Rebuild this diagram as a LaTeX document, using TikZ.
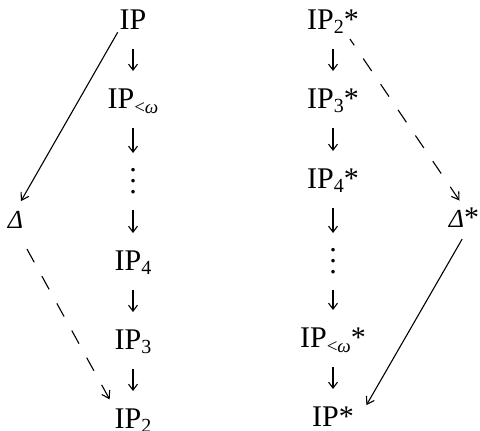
\documentclass[tikz,border=0pt]{standalone}
\usepackage{fontspec}
\setmainfont{Liberation Serif}
\usetikzlibrary{arrows.meta,calc}
\newcommand{\lsub}[1]{{\fontsize{19}{19}\selectfont\raisebox{-5pt}{#1}}}
\newcommand{\dsub}[1]{{\fontsize{20}{20}\selectfont\raisebox{-4pt}{#1}}}
\newcommand{\vdts}{\raisebox{-3pt}{\vbox{\baselineskip=11pt\lineskiplimit=0pt\hbox{.}\hbox{.}\hbox{.}}}}
\newcommand{\dlt}{{\fontsize{26}{26}\selectfont\itshape Δ}}
\tikzset{
  lbl/.style={anchor=base, inner sep=0pt, font=\fontsize{30}{36}\selectfont},
  vert/.style={-{Straight Barb[length=6pt,width=9pt]}, line width=1.1pt, shorten <=20pt, shorten >=37pt},
  longarr/.style={-{Straight Barb[length=7pt,width=9pt]}, line width=1.1pt},
  dsh/.style={{Straight Barb[length=7pt,width=9pt]}-, line width=1.1pt, dash pattern=on 15pt off 16pt}
}
\begin{document}
\begin{tikzpicture}[x=1pt,y=-1pt]
\useasboundingbox (0,0) rectangle (480,431);
% left column
\node[lbl] (ip)   at (133,29)  {IP};
\node[lbl] (iplw) at (133,108) {IP\lsub{<\itshape ω}};
\node[lbl] (ldt)  at (133,190) {\vdts};
\node[lbl] (ip4)  at (133,270) {IP\dsub{4}};
\node[lbl] (ip3)  at (133,349) {IP\dsub{3}};
\node[lbl] (ip2)  at (133,428) {IP\dsub{2}};
% right column
\node[lbl] (ip2s) at (333,29)  {IP\dsub{2}*};
\node[lbl] (ip3s) at (333,108) {IP\dsub{3}*};
\node[lbl] (ip4s) at (333,188) {IP\dsub{4}*};
\node[lbl] (rdt)  at (333,270) {\vdts};
\node[lbl] (iplws) at (333,347) {IP\lsub{<\itshape ω}*};
\node[lbl] (ips)  at (333,426) {IP*};
% deltas
\node[lbl] (dl) at (15.5,228) {\dlt};
\node[lbl] (ds) at (464,227) {\dlt *};
% vertical arrows
\draw[vert] (ip.base) -- (iplw.base);
\draw[vert] (iplw.base) -- (ldt.base);
\draw[vert] (ldt.base) -- (ip4.base);
\draw[vert] (ip4.base) -- (ip3.base);
\draw[vert] (ip3.base) -- (ip2.base);
\draw[vert] (ip2s.base) -- (ip3s.base);
\draw[vert] (ip3s.base) -- (ip4s.base);
\draw[vert] (ip4s.base) -- (rdt.base);
\draw[vert] (rdt.base) -- (iplws.base);
\draw[vert] (iplws.base) -- (ips.base);
% long arrows
\draw[longarr, shorten <=3.5pt, shorten >=11pt] (ip.south west) -- (dl.north);
\draw[dsh, shorten >=20.5pt, shorten <=10pt] (ip2.north west) -- (dl.south);
\draw[dsh, shorten >=7pt, shorten <=8pt] (ds.north) -- ($(ip2s.south)!0.5!(ip2s.south east)$);
\draw[longarr, shorten <=13.8pt, shorten >=12.7pt] ($(ds.south)+(5,0)$) -- ($(ips.east)+(6,0)$);
\end{tikzpicture}
\end{document}
